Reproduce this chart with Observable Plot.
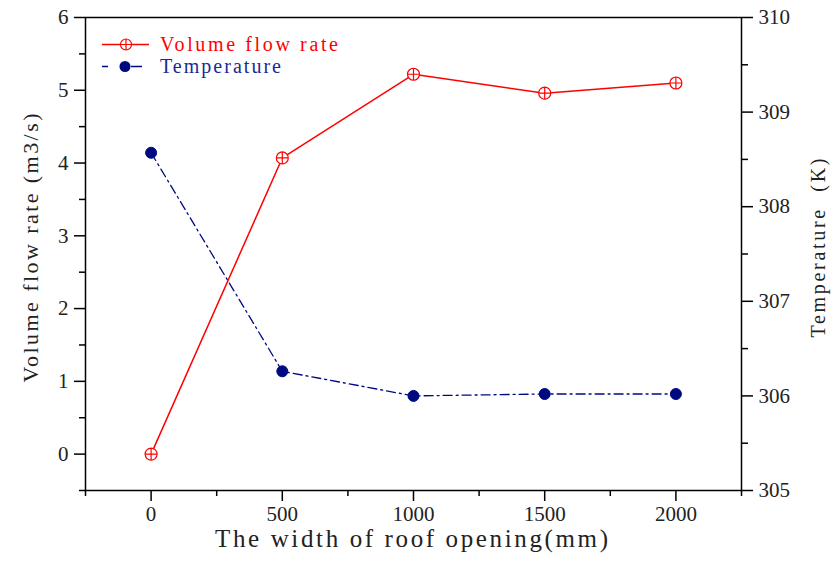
<!DOCTYPE html>
<html><head><meta charset="utf-8">
<script src="https://cdn.jsdelivr.net/npm/d3@7"></script>
<script src="https://cdn.jsdelivr.net/npm/@observablehq/plot@0.6"></script>
<style>
body{margin:0;background:#fff;}
#wrap{position:relative;width:831px;height:561px;}
#legend{position:absolute;left:0;top:0;pointer-events:none;}
</style></head><body><div id="wrap"></div>
<script>
// ---- data ----
const widths = [0, 500, 1000, 1500, 2000];
const volumeFlow = [0, 4.07, 5.22, 4.96, 5.10];
const temperature = [308.57, 306.26, 306.00, 306.02, 306.02];
const xTicks = [0, 500, 1000, 1500, 2000];
const xMinorTicks = [-250, 250, 750, 1250, 1750, 2250];
const yLeftTicks = [0, 1, 2, 3, 4, 5, 6];
const yLeftMinorTicks = [-0.5, 0.5, 1.5, 2.5, 3.5, 4.5, 5.5];
const yRightTicks = [305, 306, 307, 308, 309, 310];
const yRightMinorTicks = [305.5, 306.5, 307.5, 308.5, 309.5];
const seriesNames = ["Volume flow rate", "Temperature"];
const xTitle = "The width of roof opening(mm)";
const yLeftTitle = "Volume flow rate (m3/s)";
const yRightTitle = "Temperature  (K)";

// map temperature domain [305,310] onto left domain [-0.5,6]
const tMap = t => -0.5 + (t - 305) * 1.3;
const tInv = v => (v + 0.5) / 1.3 + 305;

const volData = widths.map((w, i) => ({w, v: volumeFlow[i]}));
const tempData = widths.map((w, i) => ({w, t: temperature[i]}));

const circlePlus = {
  draw(ctx, size) {
    const r = Math.sqrt(size / Math.PI);
    ctx.moveTo(r, 0); ctx.arc(0, 0, r, 0, 2 * Math.PI);
    ctx.moveTo(-r, 0); ctx.lineTo(r, 0);
    ctx.moveTo(0, -r); ctx.lineTo(0, r);
  }
};

const serif = "'Liberation Serif', 'Times New Roman', Times, 'DejaVu Serif', serif";
const RED = "#ff0000", NAVY = "#000a80";

const chart = Plot.plot({
  width: 831, height: 561,
  marginLeft: 85, marginRight: 90, marginTop: 17, marginBottom: 71,
  x: {domain: [-250, 2250]},
  y: {domain: [-0.5, 6]},
  style: {background: "white", overflow: "visible"},
  marks: [
    Plot.axisX(xMinorTicks, {tickSize: 6, tickFormat: () => "", stroke: "#000", strokeWidth: 1.5, label: null}),
    Plot.axisX(xTicks, {tickSize: 11, tickPadding: 5, stroke: "#000", strokeWidth: 1.5, fill: "#222",
      fontSize: 21, fontFamily: serif, label: null, tickFormat: d => String(d)}),
    Plot.axisY(yLeftMinorTicks, {anchor: "left", tickSize: 6, tickFormat: () => "", stroke: "#000", strokeWidth: 1.5, label: null}),
    Plot.axisY(yLeftTicks, {anchor: "left", tickSize: 11, tickPadding: 6, stroke: "#000", strokeWidth: 1.5, fill: "#222",
      fontSize: 21, fontFamily: serif, label: null, tickFormat: d => String(d)}),
    Plot.axisY(yRightMinorTicks.map(tMap), {anchor: "right", tickSize: 6, tickFormat: () => "", stroke: "#000", strokeWidth: 1.5, label: null}),
    Plot.axisY(yRightTicks.map(tMap), {anchor: "right", tickSize: 11, tickPadding: 6, stroke: "#000", strokeWidth: 1.5, fill: "#222",
      fontSize: 21, fontFamily: serif, label: null, tickFormat: d => String(Math.round(tInv(d)))}),
    Plot.frame({stroke: "#000", strokeWidth: 1.5}),
    Plot.line(tempData, {x: "w", y: d => tMap(d.t), stroke: NAVY, strokeWidth: 1.3, strokeDasharray: "9,4,2,4"}),
    Plot.line(volData, {x: "w", y: "v", stroke: RED, strokeWidth: 1.5}),
    Plot.dot(tempData, {x: "w", y: d => tMap(d.t), r: 5.5, fill: NAVY, stroke: NAVY, strokeWidth: 1}),
    Plot.dot(volData, {x: "w", y: "v", r: 6, symbol: circlePlus, fill: "white", stroke: RED, strokeWidth: 1.2}),
    Plot.text([xTitle], {frameAnchor: "bottom", textAnchor: "middle", text: d => d, dy: 56, dx: -2, fontSize: 25, fontFamily: serif, fill: "#222"}),
    Plot.text([yLeftTitle], {frameAnchor: "left", textAnchor: "middle", text: d => d, rotate: -90, dx: -55, dy: -6, fontSize: 22, fontFamily: serif, fill: "#222"}),
    Plot.text([yRightTitle], {frameAnchor: "right", textAnchor: "middle", text: d => d, rotate: -90, dx: 77, dy: -6, fontSize: 20, fontFamily: serif, fill: "#222"})
  ]
});
const wrap = document.getElementById("wrap");
wrap.appendChild(chart);

// stretch titles to the monospaced widths of the reference
const spanWidths = new Map([[xTitle, 393], [yLeftTitle, 269], [yRightTitle, 179]]);
for (const t of chart.querySelectorAll("text")) {
  const w = spanWidths.get(t.textContent);
  if (w) { t.setAttribute("textLength", w); t.setAttribute("lengthAdjust", "spacing"); }
}

// ---- legend (inside plot area, top-left) ----
const ns = "http://www.w3.org/2000/svg";
const lg = document.createElementNS(ns, "svg");
lg.setAttribute("id", "legend");
lg.setAttribute("width", 400); lg.setAttribute("height", 90);
const add = (tag, attrs) => { const e = document.createElementNS(ns, tag); for (const k in attrs) e.setAttribute(k, attrs[k]); lg.appendChild(e); return e; };
// row 1
add("line", {x1: 102, x2: 149, y1: 44.5, y2: 44.5, stroke: RED, "stroke-width": 1.5});
add("circle", {cx: 126, cy: 44.5, r: 5.5, fill: "white", stroke: RED, "stroke-width": 1.2});
add("path", {d: "M120.5,44.5H131.5M126,39V50", stroke: RED, "stroke-width": 1.2, fill: "none"});
const t1 = add("text", {x: 160, y: 44, fill: RED, "dominant-baseline": "central", textLength: 178, lengthAdjust: "spacing"});
t1.style.fontFamily = serif; t1.style.fontSize = "20px";
t1.textContent = seriesNames[0];
// row 2
add("line", {x1: 102, x2: 108, y1: 66.5, y2: 66.5, stroke: NAVY, "stroke-width": 1.5});
add("circle", {cx: 125, cy: 66.5, r: 5.5, fill: NAVY});
add("line", {x1: 131, x2: 142, y1: 66.5, y2: 66.5, stroke: NAVY, "stroke-width": 1.5});
const t2 = add("text", {x: 160, y: 66, fill: "#1a2a96", "dominant-baseline": "central", textLength: 121, lengthAdjust: "spacing"});
t2.style.fontFamily = serif; t2.style.fontSize = "20px";
t2.textContent = seriesNames[1];
wrap.appendChild(lg);
</script></body></html>
